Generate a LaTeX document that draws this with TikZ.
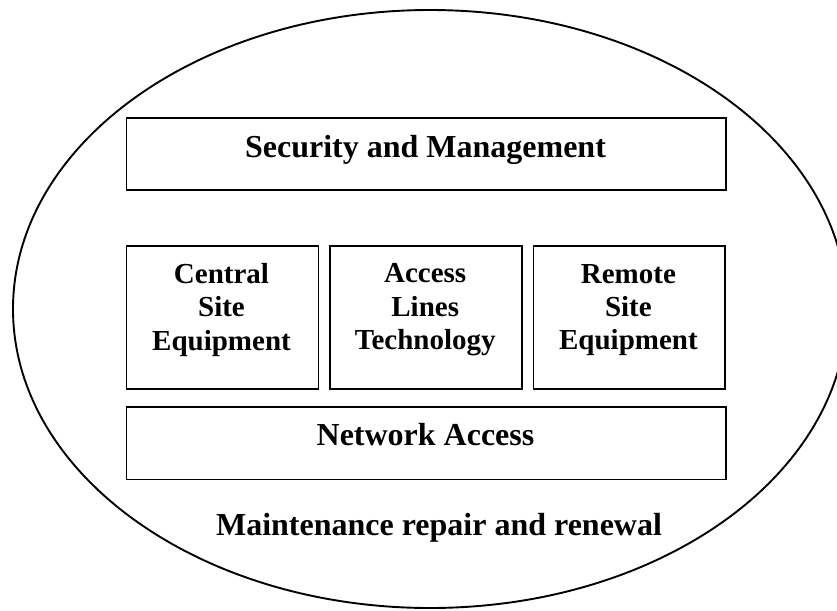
\documentclass[tikz,border=0pt]{standalone}
\usepackage{fontspec}
\setmainfont{Liberation Serif}
\begin{document}
\begin{tikzpicture}[x=1pt,y=-1pt,
  frame/.style={draw, line width=1.7pt, inner sep=0pt, anchor=north west},
  bigtext/.style={font=\fontsize{32}{37}\selectfont\bfseries, inner sep=0pt, anchor=base},
  midtext/.style={font=\fontsize{29}{33.4}\selectfont\bfseries, inner sep=0pt, align=center}]
\useasboundingbox (0,0) rectangle (837,610);
\clip (0,0) rectangle (837,610);

% outer ellipse
\draw[line width=1.9pt] (430,309) ellipse [x radius=417pt, y radius=299pt];

% layer boxes
\node[frame, minimum width=599.6pt, minimum height=72pt] (sec) at (125.7,117) {};
\node[frame, minimum width=192pt, minimum height=143pt] (cen) at (125.5,245) {};
\node[frame, minimum width=191.7pt, minimum height=143pt] (acc) at (329.3,245) {};
\node[frame, minimum width=191.5pt, minimum height=143pt] (rem) at (532.7,245) {};
\node[frame, minimum width=599.5pt, minimum height=72.7pt] (net) at (125.7,406) {};

% labels
\node[bigtext] (secT) at (425.5,157) {Security and Management};
\node[midtext] (cenT) at (221.5,310) {Central\\Site\\Equipment};
\node[midtext] (accT) at (425.2,310) {Access\\Lines\\Technology};
\node[midtext] (remT) at (628.4,310) {Remote\\Site\\Equipment};
\node[bigtext] (netT) at (425.5,445) {Network Access};
\node[bigtext] (mntT) at (439,535) {Maintenance repair and renewal};
\end{tikzpicture}
\end{document}
